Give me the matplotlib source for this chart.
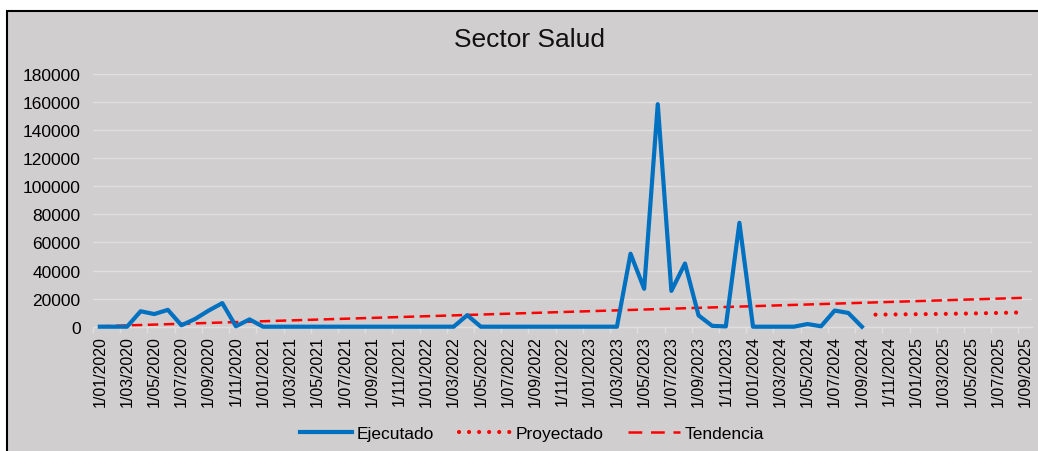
import matplotlib
matplotlib.use("Agg")
import matplotlib.pyplot as plt
from matplotlib.patches import Rectangle
from matplotlib.lines import Line2D
import pandas as pd

# ---- data ----
fechas = pd.date_range("2020-01-01", "2025-09-01", freq="MS")
etiquetas = [f"{d.day}/{d.month:02d}/{d.year}" for d in fechas]

ejecutado = [0, 0, 0, 11000, 9000, 12000, 1000, 5500, 11500, 16800, 300, 5200,
             0, 0, 0, 0, 0, 0, 0, 0, 0, 0, 0, 0,
             0, 0, 0, 8200, 0, 0, 0, 0, 0, 0, 0, 0,
             0, 0, 0, 52000, 27000, 158500, 25500, 45000, 8000, 600, 200, 74000,
             0, 0, 0, 0, 1900, 300, 11500, 9800, 0]
proyectado = [8600, 8700, 8800, 8900, 9000, 9100, 9300, 9400, 9600, 9800, 10000, 10200]
tendencia_extremos = [300, 20600]

titulo = "Sector Salud"
y_ticks = list(range(0, 180001, 20000))

# ---- figure ----
W, H = 1038, 452
plt.rcParams["font.family"] = ["Liberation Sans", "DejaVu Sans"]
fig = plt.figure(figsize=(W / 100, H / 100), dpi=100, facecolor="white")
bg = "#D0CECE"
frame = Rectangle((7 / W, -0.1), 1.2, 1 - 12 / H + 0.1,
                  transform=fig.transFigure, facecolor=bg,
                  edgecolor="black", linewidth=1.5, zorder=-10)
fig.patches.append(frame)

ax = fig.add_axes([93 / W, 1 - 327.7 / H, (1032 - 93) / W, (327.7 - 75) / H])
ax.set_zorder(1)
ax.set_facecolor(bg)

n = len(fechas)
x_ej = list(range(len(ejecutado)))
x_pr = list(range(n - len(proyectado), n))

dotted = (0, (0.01, 2.4))
dashed = (0, (4.2, 2.2))

ax.plot(x_ej, ejecutado, color="#0070C0", lw=3.0, solid_joinstyle="round",
        clip_on=False, zorder=3, label="Ejecutado")
ax.plot(x_pr, proyectado, color="#FF0000", lw=3.0, linestyle=dotted,
        dash_capstyle="round", clip_on=False, zorder=3, label="Proyectado")
ax.plot([0, n - 1], tendencia_extremos, color="#FF0000", lw=1.8,
        linestyle=dashed, clip_on=False, zorder=2, label="Tendencia")

ax.set_ylim(0, 180000)
ax.set_xlim(-0.5, n - 0.5)
ax.set_yticks(y_ticks)
ax.set_yticklabels([str(v) for v in y_ticks])
ax.grid(axis="y", color="#E0DFDF", lw=1.0)
ax.set_axisbelow(True)

ax.set_xticks(range(0, n, 2))
ax.set_xticklabels(etiquetas[::2], rotation=90, va="top", ha="center")
ax.set_xticks([i - 0.5 for i in range(0, n + 1, 2)], minor=True)
ax.tick_params(axis="x", which="major", length=0, pad=6, labelsize=11.5, colors="black")
ax.tick_params(axis="x", which="minor", length=4, color="#E0DFDF", width=1)
ax.tick_params(axis="y", length=0, pad=9, labelsize=12.5, colors="black")

for s in ["top", "right", "left"]:
    ax.spines[s].set_visible(False)
ax.spines["bottom"].set_color("#E0DFDF")
ax.spines["bottom"].set_linewidth(1.0)

fig.text(529 / W, 1 - 47 / H, titulo, ha="center", va="baseline", fontsize=19, color="#111111")

handles = [
    Line2D([], [], color="#0070C0", lw=3.0),
    Line2D([], [], color="#FF0000", lw=3.0, linestyle=dotted, dash_capstyle="round"),
    Line2D([], [], color="#FF0000", lw=1.8, linestyle=(0, (5.5, 3.5))),
]
fig.legend(handles, ["Ejecutado", "Proyectado", "Tendencia"], loc="center",
           bbox_to_anchor=(532 / W, 1 - 434 / H), ncol=3, frameon=False,
           fontsize=12.5, handlelength=3.0, handletextpad=0.25, columnspacing=1.45)

fig.savefig("out.png", dpi=100, facecolor="white")
